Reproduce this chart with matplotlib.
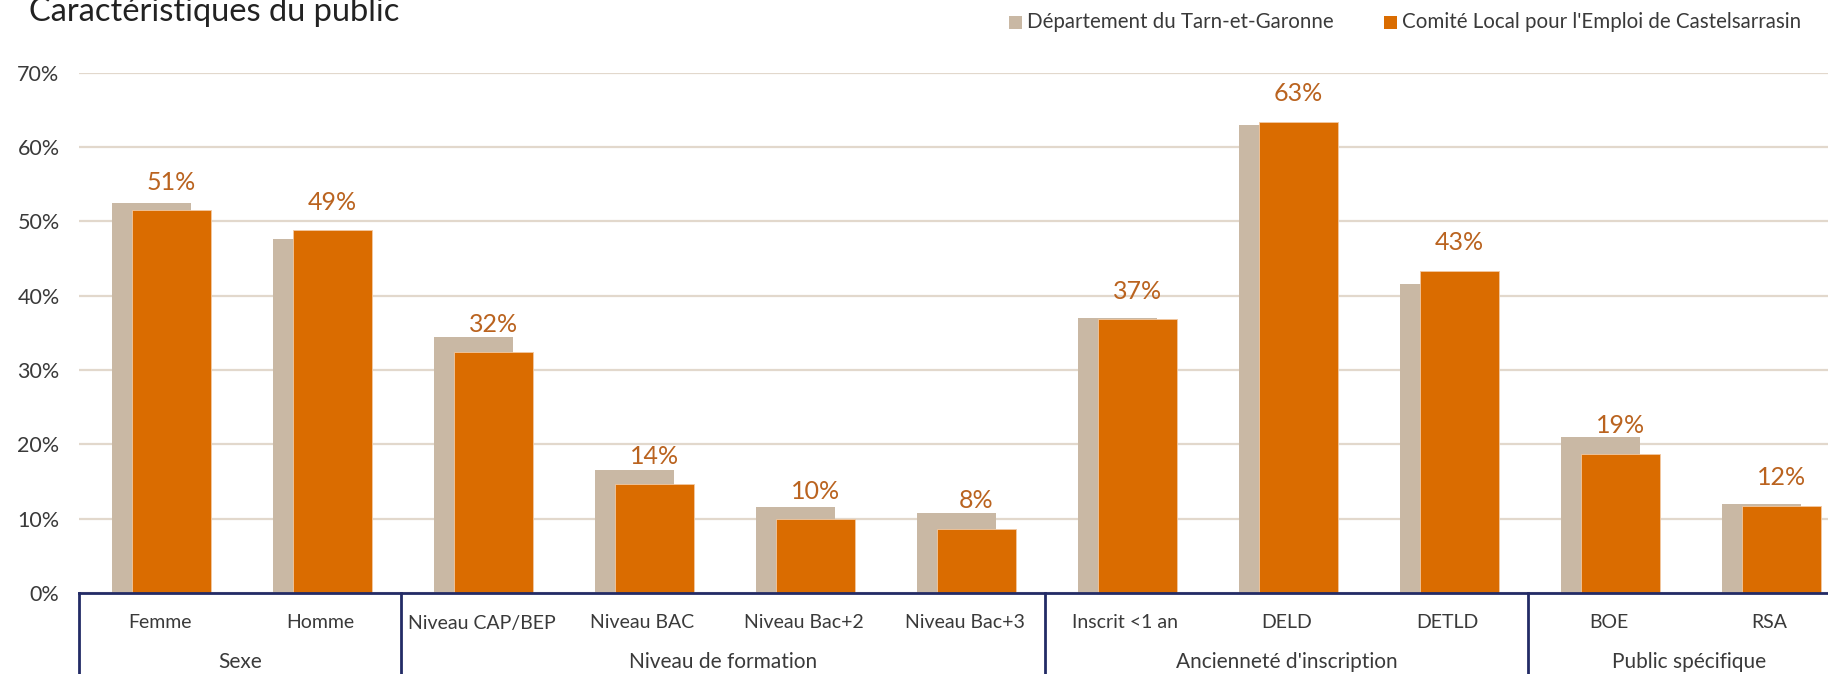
import matplotlib.pyplot as plt
import matplotlib.transforms as mtransforms
from matplotlib.patches import Rectangle
import numpy as np

plt.rcParams['font.family'] = ['Lato', 'DejaVu Sans']

categories = ['Femme', 'Homme', 'Niveau CAP/BEP', 'Niveau BAC', 'Niveau Bac+2', 'Niveau Bac+3',
              'Inscrit <1 an', 'DELD', 'DETLD', 'BOE', 'RSA']
groups = ['Sexe', 'Niveau de formation', "Ancienneté d'inscription", 'Public spécifique']
group_sizes = [2, 4, 3, 2]
departement = [52.5, 47.6, 34.5, 16.6, 11.6, 10.8, 37.0, 63.0, 41.6, 21.0, 12.0]
comite = [51.5, 48.8, 32.4, 14.6, 9.9, 8.6, 36.8, 63.4, 43.3, 18.7, 11.7]
comite_labels = ['51%', '49%', '32%', '14%', '10%', '8%', '37%', '63%', '43%', '19%', '12%']
legend_names = ['Département du Tarn-et-Garonne', "Comité Local pour l'Emploi de Castelsarrasin"]

grey = '#C9B8A4'
orange = '#DA6C00'
navy = '#232B66'
grid_col = '#E2D8CC'
label_col = '#BA631F'
text_col = '#3A3A3A'

W, H = 1828, 674
fig = plt.figure(figsize=(W / 100, H / 100), dpi=100)
# axes runs past the right edge of the figure, like the original
ax = fig.add_axes([79 / W, 81 / H, 11 * 161 / W, 520.3 / H])

x = np.arange(len(categories))
bw = 0.49
ax.bar(x - 0.05, departement, bw, color=grey, zorder=2)
ax.bar(x + 0.073, comite, bw, color=orange, edgecolor='#F2C9A2', linewidth=0.6, zorder=3)

for xi, v, lab in zip(x, comite, comite_labels):
    ax.annotate(lab, (xi + 0.073, v), xytext=(0, 12), textcoords='offset points',
                ha='center', va='bottom', fontsize=18, color=label_col)

ax.set_xlim(-0.5, len(categories) - 0.5)
ax.set_ylim(0, 70)
ax.set_yticks(np.arange(0, 71, 10))
ax.set_yticklabels([f'{t}%' for t in range(0, 71, 10)], fontsize=15.5, color=text_col)
ax.tick_params(axis='y', length=0, pad=14)
ax.set_xticks([])
ax.grid(axis='y', color=grid_col, linewidth=1.6, zorder=0)
for s in ['top', 'right', 'left']:
    ax.spines[s].set_visible(False)
ax.spines['bottom'].set_color(navy)
ax.spines['bottom'].set_linewidth(2)
ax.spines['bottom'].set_zorder(4)

trans = mtransforms.blended_transform_factory(ax.transData, ax.transAxes)
y_low = -82 / 520.3
for xi, cat in zip(x, categories):
    ax.text(xi, -30 / 520.3, cat, transform=trans, ha='center', va='center',
            fontsize=14, color=text_col)

start = 0
bounds = [-0.5]
for g, n in zip(groups, group_sizes):
    mid = start + (n - 1) / 2
    ax.text(mid, -69 / 520.3, g, transform=trans, ha='center', va='center',
            fontsize=15, color=text_col)
    start += n
    bounds.append(start - 0.5)
for b in bounds:
    ax.plot([b, b], [0, y_low], transform=trans, color=navy, linewidth=2, clip_on=False, zorder=5)

fig.text(29 / W, 1 - 21 / H, 'Caractéristiques du public', fontsize=23.5, color='#222222',
         ha='left', va='baseline')

# legend drawn by hand
leg_items = [(1009, grey, legend_names[0]), (1384, orange, legend_names[1])]
for lx, col, name in leg_items:
    fig.patches.append(Rectangle((lx / W, 1 - 29 / H), 13 / W, 13 / H, transform=fig.transFigure,
                                 facecolor=col, edgecolor='none'))
    fig.text((lx + 18) / W, 1 - 22 / H, name, fontsize=14.8, color=text_col,
             ha='left', va='center')

fig.savefig('out.png', dpi=100)
